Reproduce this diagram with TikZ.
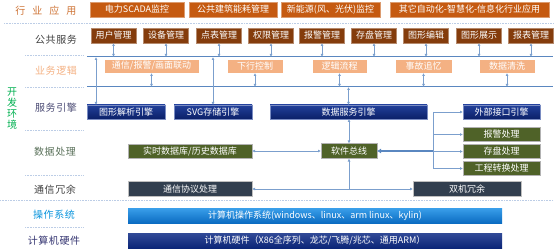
\documentclass[tikz,border=0pt]{standalone}
\usepackage{fontspec}
\setmainfont{Noto Sans CJK SC}
\newfontfamily\widecjk[LetterSpace=70]{Noto Sans CJK SC}
\newfontfamily\labelcjk[LetterSpace=6]{Noto Sans CJK SC}
\usetikzlibrary{positioning,calc,arrows.meta}
\definecolor{appbrown}{HTML}{C55A11}
\definecolor{svcbrown}{HTML}{843C0C}
\definecolor{logicpink}{HTML}{F4B183}
\definecolor{engtop}{HTML}{22409A}
\definecolor{engbot}{HTML}{0B2068}
\definecolor{dataolive}{HTML}{4F6228}
\definecolor{commslate}{HTML}{323F4F}
\definecolor{ostop}{HTML}{3A9FEA}
\definecolor{osbot}{HTML}{0B6CC2}
\definecolor{hwnavy}{HTML}{0D2A85}
\definecolor{linkblue}{HTML}{5A87C0}
\definecolor{sepblue}{HTML}{BCCDE6}
\definecolor{devgreen}{HTML}{00B050}

\begin{document}
\begin{tikzpicture}[x=1pt, y=-1pt,
  boxbase/.style={inner sep=0pt, outer sep=0pt, text=white,
               minimum height=15pt, align=center, font=\fontsize{9}{10}\selectfont},
  appbox/.style={boxbase, fill=appbrown, draw=appbrown!60!white},
  svcbox/.style={boxbase, fill=svcbrown, draw=svcbrown!60!white, minimum width=45pt},
  logicbox/.style={boxbase, fill=logicpink, draw=white, minimum height=14pt},
  engbox/.style={boxbase, top color=engtop, bottom color=engbot,
               draw=engtop!60!white, minimum height=14pt},
  databox/.style={boxbase, fill=dataolive, draw=black!30, minimum height=14pt},
  commbox/.style={boxbase, fill=commslate, draw=black!25},
  osbar/.style={boxbase, top color=ostop, bottom color=osbot,
               minimum width=374pt},
  hwbar/.style={boxbase, top color=hwnavy!85!white, bottom color=hwnavy!90!black,
               minimum width=374pt},
  rowlabel/.style={font=\labelcjk\fontsize{10}{12}\selectfont, inner sep=0pt},
  sep/.style={draw=sepblue, line width=0.7pt, dash pattern=on 1pt off 0.6pt},
  bus/.style={draw=linkblue, line width=1pt},
  link/.style={draw=linkblue!80!white, line width=0.6pt},
  arrow/.style={link, -{Latex[length=3pt,width=3pt]}},
  dblarrow/.style={link, {Latex[length=3pt,width=3pt]}-{Latex[length=3pt,width=3pt]}},
  thickarrow/.style={draw=linkblue, line width=1.8pt, -{Latex[length=4pt,width=5pt]}},
]
\useasboundingbox (0,0) rectangle (554,251);

% Separators
\draw[sep] (4,23) -- (554,23);
\draw[sep] (25,55) -- (83,55);
\draw[sep] (25,87) -- (83,87);
\draw[sep] (25,130) -- (83,130);
\draw[sep] (25,175) -- (83,175);
\draw[sep] (0,200) -- (554,200);
\draw[sep] (25,227) -- (83,227);

% Row labels
\node[rowlabel, font=\widecjk\fontsize{10}{12}\selectfont, text=appbrown!85!white] (lblapp) at (46,11) {行业应用};
\node[rowlabel, text=black!75] (lblsvc) at (56,40) {公共服务};
\node[rowlabel, text=logicpink] (lbllogic) at (56,71) {业务逻辑};
\node[rowlabel, text=devgreen, align=center, font=\fontsize{10}{11}\selectfont] (lbldev) at (12,108.5) {开\\发\\环\\境};
\node[rowlabel, text=black!60!blue!40!gray] (lbleng) at (56,108) {服务引擎};
\node[rowlabel, text=black!70!green!30!gray] (lbldata) at (55,152) {数据处理};
\node[rowlabel, text=black!75] (lblcomm) at (55,190) {通信冗余};
\node[rowlabel, text=cyan!80!blue] (lblos) at (54,215) {操作系统};
\node[rowlabel, text=black!60!blue!60!gray] (lblhw) at (54,241) {计算机硬件};

% Row 1: industry applications
\node[appbox, minimum width=94pt] (app1) at (137,9.5) {电力SCADA监控};
\node[appbox, minimum width=88pt] (app2) at (233,9.5) {公共建筑能耗管理};
\node[appbox, minimum width=99pt] (app3) at (330.5,9.5) {新能源(风、光伏)监控};
\node[appbox, minimum width=159pt] (app4) at (469.5,9.5) {其它自动化-智慧化-信息化行业应用};

% Row 2: public services
\node[svcbox] (svc1) at (113.5,35.5) {用户管理};
\node[svcbox] (svc2) at (166,35.5) {设备管理};
\node[svcbox] (svc3) at (219,35.5) {点表管理};
\node[svcbox] (svc4) at (271,35.5) {权限管理};
\node[svcbox] (svc5) at (322,35.5) {报警管理};
\node[svcbox] (svc6) at (374,35.5) {存盘管理};
\node[svcbox] (svc7) at (426,35.5) {图形编辑};
\node[svcbox] (svc8) at (479,35.5) {图形展示};
\node[svcbox] (svc9) at (531,35.5) {报表管理};

% Buses
\coordinate (bustopw) at (87,57);
\coordinate (bustope) at (553,57);
\coordinate (busbotw) at (87,87);
\coordinate (busbote) at (553,87);
\draw[bus] (bustopw) -- (bustope);
\draw[bus] (busbotw) -- (busbote);

% Row 3: business logic
\node[logicbox, minimum width=95pt] (logic1) at (151.5,66) {通信/报警/画面联动};
\node[logicbox, minimum width=56pt] (logic2) at (255,66) {下行控制};
\node[logicbox, minimum width=55pt] (logic3) at (339.5,66) {逻辑流程};
\node[logicbox, minimum width=57pt] (logic4) at (423.5,66) {事故追忆};
\node[logicbox, minimum width=56pt] (logic5) at (507,66) {数据清洗};

% Row 4: service engines
\node[engbox, minimum width=78pt] (eng1) at (126,112) {图形解析引擎};
\node[engbox, minimum width=78pt] (eng2) at (213,112) {SVG存储引擎};
\node[engbox, minimum width=157pt] (eng3) at (348.5,112) {数据服务引擎};
\node[engbox, minimum width=77pt] (eng4) at (501.5,112) {外部接口引擎};

% Row 5: data processing
\node[databox, minimum width=124pt] (rtdb) at (190,151) {实时数据库/历史数据库};
\node[databox, minimum width=56pt, minimum height=15pt] (softbus) at (349,151) {软件总线};
\node[databox, minimum width=77pt] (alarm) at (501.5,134.5) {报警处理};
\node[databox, minimum width=77pt] (store) at (501.5,151.5) {存盘处理};
\node[databox, minimum width=77pt] (proj) at (501.5,168.5) {工程转换处理};

% Row 6: communication / redundancy
\node[commbox, minimum width=124pt] (protocol) at (190,189) {通信协议处理};
\node[commbox, minimum width=108pt] (dual) at (467,189) {双机冗余};

% Rows 7-8: OS and hardware
\node[osbar] (os) at (315,215.5) {计算机操作系统(windows、linux、arm linux、kylin)};
\node[hwbar] (hw) at (315,240.5) {计算机硬件（X86全序列、龙芯/飞腾/兆芯、通用ARM）};

% Edges: services <-> top bus
\foreach \s in {svc1,svc2,svc3,svc4,svc5,svc6,svc7,svc8,svc9}
  \draw[dblarrow] (\s.south) -- (\s.south |- bustopw);
% Edges: logic <-> bottom bus
\foreach \s in {logic1,logic2,logic3,logic4,logic5}
  \draw[dblarrow] (\s.south) -- (\s.south |- busbotw);

% Edges: buses <-> engines
\coordinate (tap1) at (96,57);
\coordinate (tap2) at (213,57);
\draw[dblarrow] (tap1) -- (tap1 |- eng1.north);
\draw[dblarrow] (tap2) -- (eng2.north);
\draw[dblarrow] (eng3.north |- busbotw) -- (eng3.north);

% Edges around the software bus
\draw[dblarrow] (eng3.south -| softbus.north) -- (softbus.north);
\draw[dblarrow] (rtdb.east) -- (softbus.west);
\coordinate (jright) at (433,151);
\draw[thickarrow] (jright) -- (softbus.east);
\draw[link] (jright |- eng4.west) -- (jright |- proj.west);
\draw[arrow] (jright |- eng4.west) -- (eng4.west);
\draw[arrow] (jright |- alarm.west) -- (alarm.west);
\draw[arrow] (jright |- store.west) -- (store.west);
\draw[arrow] (jright |- proj.west) -- (proj.west);
\coordinate (jbottom) at (softbus.south |- protocol.east);
\draw[arrow] (jbottom) -- (softbus.south);
\draw[arrow] (jbottom) -- (protocol.east);
\draw[arrow] (jbottom) -- (dual.west);

\end{tikzpicture}
\end{document}
